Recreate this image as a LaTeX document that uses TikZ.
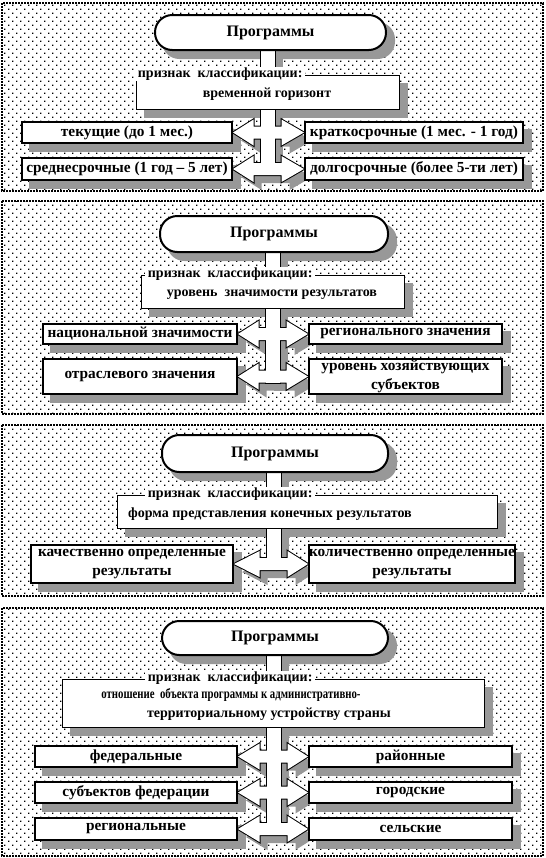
\documentclass[tikz,border=0pt]{standalone}
\usepackage{fontspec}
\usepackage{graphicx}
\setmainfont{Liberation Serif}
\usetikzlibrary{calc,patterns.meta}
\definecolor{shadowgray}{RGB}{152,152,152}
\newlength{\pxu}\setlength{\pxu}{0.75pt}
\pgfdeclarelayer{panel}
\pgfdeclarelayer{shadow}
\pgfdeclarelayer{spineline}
\pgfdeclarelayer{spinebody}
\pgfsetlayers{panel,shadow,spineline,spinebody,main}
\pgfdeclarepattern{
  name=sparsedots,
  type=uncolored,
  bottom left={\pgfpoint{-0.1pt}{-0.1pt}},
  top right={\pgfpoint{6pt}{6pt}},
  tile size={\pgfpoint{6pt}{6pt}},
  code={
    \pgfpathrectangle{\pgfpointorigin}{\pgfpoint{0.95pt}{0.95pt}}
    \pgfpathrectangle{\pgfpoint{3pt}{3pt}}{\pgfpoint{0.95pt}{0.95pt}}
    \pgfusepath{fill}
  }
}
% vertical bar below the title: style, offset, title node, last left node, x
\newcommand{\spinebar}[5]{%
  \path[#1] ($(#5,0 |- #3.center)+(-7,0)+(#2)$) rectangle ($(#5,0 |- #4.east)+(7,6)+(#2)$);}
% double block arrow between two row boxes: style, offset, left node, right node, x
\newcommand{\biarrow}[5]{%
  \coordinate (ac0) at (#5,0 |- #3.east);
  \coordinate (ac) at ($(ac0)+(#2)$);
  \path[#1] ($(#3.east)+(#2)$) -- ($(ac)+(-14,-13)$) -- ($(ac)+(-14,-6)$) -- ($(ac)+(14,-6)$)
    -- ($(ac)+(14,-13)$) -- ($(#4.west)+(#2)$) -- ($(ac)+(14,13)$) -- ($(ac)+(14,6)$)
    -- ($(ac)+(-14,6)$) -- ($(ac)+(-14,13)$) -- cycle;}

\begin{document}
\begin{tikzpicture}[
  x=0.75pt, y=-0.75pt,
  every node/.style={font=\bfseries},
  panelbg/.style={pattern=sparsedots, draw, line width=0.9pt, dash pattern=on 1.5pt off 0.75pt},
  titlebox/.style={draw, line width=1.5pt, fill=white, rounded corners=13pt, font=\fontsize{12}{14}\selectfont\bfseries},
  critbox/.style={draw, line width=0.75pt, fill=white},
  critlabel/.style={fill=white, anchor=west, inner xsep=2pt, inner ysep=0.5pt, font=\fontsize{10.5}{12}\selectfont\bfseries},
  crittext/.style={inner sep=0pt, font=\fontsize{10.5}{12}\selectfont\bfseries},
  rowbox/.style={draw, line width=1.5pt, fill=white, align=center, inner sep=0pt, font=\fontsize{11.5}{14}\selectfont\bfseries},
  shade/.style={fill=shadowgray},
  spinestroke/.style={draw, line width=1.5pt},
  spinefill/.style={fill=white}
]
\useasboundingbox (0,0) rectangle (546,858);

% panel 1
\node[titlebox, minimum width=231\pxu, minimum height=35\pxu] (top1) at (270.5,32.5) {Программы};
\node[critbox, minimum width=263\pxu, minimum height=34\pxu] (crit1) at (267.5,92) {};
\node[critlabel] (lab1) at (135,74) {признак\ \ классификации:};
\node[crittext] (txt1) at (267,94) {временной горизонт};
\node[rowbox, minimum width=210\pxu, minimum height=21\pxu] (l11) at (127,132.5) {текущие (до 1 мес.)};
\node[rowbox, minimum width=218\pxu, minimum height=21\pxu] (r11) at (414,132.5) {краткосрочные (1 мес. - 1 год)};
\node[rowbox, minimum width=210\pxu, minimum height=22\pxu] (l12) at (127,169) {среднесрочные (1 год – 5 лет)};
\node[rowbox, minimum width=218\pxu, minimum height=22\pxu] (r12) at (414,169) {долгосрочные (более 5-ти лет)};

% panel 2
\node[titlebox, minimum width=228\pxu, minimum height=36\pxu] (top2) at (274,234) {Программы};
\node[critbox, minimum width=263\pxu, minimum height=33\pxu] (crit2) at (272.5,291.5) {};
\node[critlabel] (lab2) at (145,274) {признак\ \ классификации:};
\node[crittext] (txt2) at (272,295) {уровень\ \ значимости результатов};
\node[rowbox, minimum width=194\pxu, minimum height=20\pxu] (l21) at (140,334) {национальной значимости};
\node[rowbox, minimum width=193\pxu, minimum height=20\pxu] (r21) at (405.5,334) {регионального значения};
\node[rowbox, minimum width=194\pxu, minimum height=35\pxu] (l22) at (140,376.5) {отраслевого значения};
\node[rowbox, minimum width=193\pxu, minimum height=35\pxu] (r22) at (405.5,376.5) {уровень хозяйствующих\\субъектов};

% panel 3
\node[titlebox, minimum width=226\pxu, minimum height=37\pxu] (top3) at (275,453.5) {Программы};
\node[critbox, minimum width=380\pxu, minimum height=33\pxu] (crit3) at (307,511.5) {};
\node[critlabel] (lab3) at (145,494) {признак\ \ классификации:};
\node[crittext] (txt3) at (270,514) {форма представления конечных результатов};
\node[rowbox, minimum width=202\pxu, minimum height=38\pxu] (l31) at (132,564) {качественно определенные\\результаты};
\node[rowbox, minimum width=204\pxu, minimum height=38\pxu] (r31) at (412,564) {количественно определенные\\результаты};

% panel 4
\node[titlebox, minimum width=226\pxu, minimum height=34\pxu] (top4) at (275,638) {Программы};
\node[critbox, minimum width=422\pxu, minimum height=48\pxu] (crit4) at (273,703) {};
\node[critlabel] (lab4) at (145,678) {признак\ \ классификации:};
\node[crittext] (txt4a) at (231,695) {\scalebox{0.77}[1]{отношение\ \ объекта программы к административно-}};
\node[crittext] (txt4b) at (269,714) {территориальному устройству страны};
\node[rowbox, minimum width=202\pxu, minimum height=21\pxu] (l41) at (136,756.5) {федеральные};
\node[rowbox, minimum width=203\pxu, minimum height=21\pxu] (r41) at (410.5,756.5) {районные};
\node[rowbox, minimum width=202\pxu, minimum height=21\pxu] (l42) at (136,792.5) {субъектов федерации};
\node[rowbox, minimum width=203\pxu, minimum height=21\pxu] (r42) at (410.5,792.5) {городские};
\node[rowbox, minimum width=202\pxu, minimum height=22\pxu] (l43) at (136,829) {региональные};
\node[rowbox, minimum width=203\pxu, minimum height=22\pxu] (r43) at (410.5,829) {сельские};

% dotted panels
\begin{pgfonlayer}{panel}
\foreach \ya/\yb in {3/191, 201/414, 425/596, 608/856}
  \draw[panelbg] (2,\ya) rectangle (543,\yb);
\end{pgfonlayer}

% shadows
\begin{pgfonlayer}{shadow}
\foreach \n in {top1,top2,top3,top4}
  \fill[shade, rounded corners=13pt] ($(\n.south west)+(8,8)$) rectangle ($(\n.north east)+(8,8)$);
\foreach \n in {crit1,l11,r11,l12,r12,crit2,l21,r21,l22,r22,crit3,l31,r31,crit4,l41,r41,l42,r42,l43,r43}
  \fill[shade] ($(\n.south west)+(8,8)$) rectangle ($(\n.north east)+(8,8)$);
\foreach \t/\l/\c in {top1/l12/267.5, top2/l22/272.5, top3/l31/273.5, top4/l43/273.5}
  {\spinebar{shade}{8,8}{\t}{\l}{\c}}
\foreach \a/\b/\c in {l11/r11/267.5, l12/r12/267.5, l21/r21/272.5, l22/r22/272.5, l31/r31/273.5,
  l41/r41/273.5, l42/r42/273.5, l43/r43/273.5}
  {\biarrow{shade}{8,8}{\a}{\b}{\c}}
\end{pgfonlayer}

% spine with arrows: outline first, then white body
\begin{pgfonlayer}{spineline}
\foreach \t/\l/\c in {top1/l12/267.5, top2/l22/272.5, top3/l31/273.5, top4/l43/273.5}
  {\spinebar{spinestroke}{0,0}{\t}{\l}{\c}}
\foreach \a/\b/\c in {l11/r11/267.5, l12/r12/267.5, l21/r21/272.5, l22/r22/272.5, l31/r31/273.5,
  l41/r41/273.5, l42/r42/273.5, l43/r43/273.5}
  {\biarrow{spinestroke}{0,0}{\a}{\b}{\c}}
\end{pgfonlayer}
\begin{pgfonlayer}{spinebody}
\foreach \t/\l/\c in {top1/l12/267.5, top2/l22/272.5, top3/l31/273.5, top4/l43/273.5}
  {\spinebar{spinefill}{0,0}{\t}{\l}{\c}}
\foreach \a/\b/\c in {l11/r11/267.5, l12/r12/267.5, l21/r21/272.5, l22/r22/272.5, l31/r31/273.5,
  l41/r41/273.5, l42/r42/273.5, l43/r43/273.5}
  {\biarrow{spinefill}{0,0}{\a}{\b}{\c}}
\end{pgfonlayer}
\end{tikzpicture}
\end{document}
